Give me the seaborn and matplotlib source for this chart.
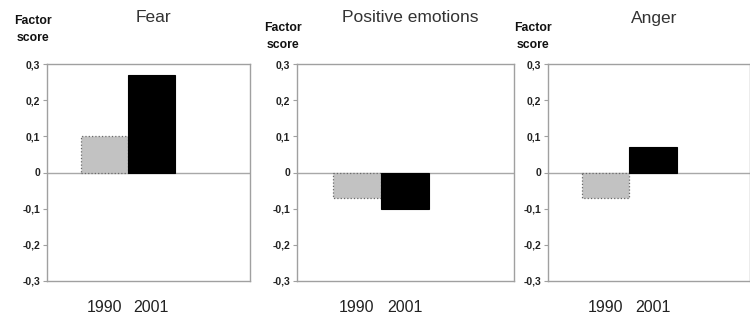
import matplotlib
matplotlib.use("Agg")
import matplotlib.pyplot as plt
import seaborn as sns
import pandas as pd

sns.set_theme(style="white")
plt.rcParams['font.family'] = ['Liberation Sans', 'DejaVu Sans']

panels = ["Fear", "Positive emotions", "Anger"]
years = ["1990", "2001"]
fear = [0.10, 0.27]
positive = [-0.07, -0.10]
anger = [-0.07, 0.07]
yticks = [-0.3, -0.2, -0.1, 0, 0.1, 0.2, 0.3]
ytick_labels = ["-0,3", "-0,2", "-0,1", "0", "0,1", "0,2", "0,3"]

values = [fear, positive, anger]
colors = {"1990": "#c2c2c2", "2001": "#000000"}

fig = plt.figure(figsize=(7.5, 3.17), dpi=100)
W, H = 750, 317
boxes = [(47, 250, -1.22, 3.10), (297, 514, -1.24, 3.28), (548, 750, -1.22, 3.05)]
ylab_y = [(21, 38), (28, 45), (28, 45)]
label_x = [33, 283, 533]

for i, (name, vals) in enumerate(zip(panels, values)):
    l, r, x0, x1 = boxes[i]
    ax = fig.add_axes([l / W, 1 - 281 / H, (r - l) / W, (281 - 64) / H])
    df = pd.DataFrame({"year": years, "score": vals})
    sns.barplot(data=df, x="year", y="score", hue="year", palette=colors,
                order=years, hue_order=years, width=1.0, legend=False, ax=ax,
                saturation=1)
    for p, yr in zip(ax.patches, years):
        if yr == "1990":
            p.set_edgecolor("#6a6a6a")
            p.set_linestyle(":")
            p.set_linewidth(0.9)
        else:
            p.set_edgecolor("#000000")
            p.set_linewidth(0.8)
    ax.axhline(0, color="#a8a8a8", lw=1.0, zorder=0)
    ax.set_xlim(x0, x1)
    ax.set_ylim(-0.3, 0.3)
    ax.set_yticks(yticks)
    ax.set_yticklabels(ytick_labels, fontsize=7.5, color="#222222", fontweight="bold")
    ax.tick_params(axis="y", length=3, width=0.8, color="#a0a0a0", pad=2, left=True)
    ax.tick_params(axis="x", length=0, pad=14, labelsize=11.5, labelcolor="#222222")
    ax.set_xlabel("")
    ax.set_ylabel("")
    for s in ax.spines.values():
        s.set_color("#a0a0a0")
        s.set_linewidth(1.0)
    cx = (l + r) / 2 + 5
    fig.text(cx / W, 1 - 18 / H, name, ha="center", va="center", fontsize=12.5,
             color="#333333")
    fig.text(label_x[i] / W, 1 - ylab_y[i][0] / H, "Factor", ha="center",
             va="center", fontsize=8.8, fontweight="bold", color="#111111")
    fig.text(label_x[i] / W, 1 - ylab_y[i][1] / H, "score", ha="center",
             va="center", fontsize=8.8, fontweight="bold", color="#111111")

fig.savefig("out.png", dpi=100)
